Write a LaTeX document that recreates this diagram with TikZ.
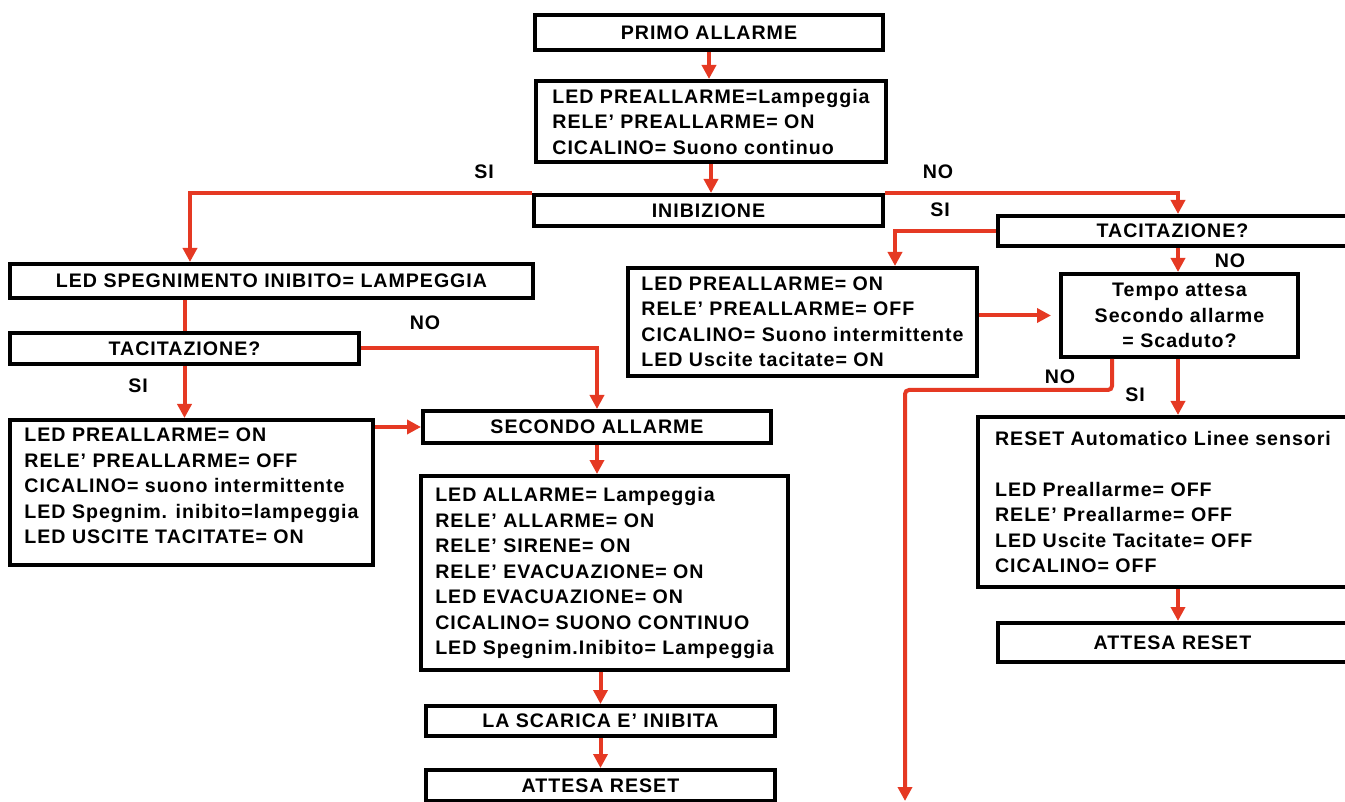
\documentclass[tikz,border=0pt]{standalone}
\usepackage{fontspec}
\setmainfont{Liberation Sans}[LetterSpace=5]
\usetikzlibrary{arrows.meta}
\usetikzlibrary{positioning}

\definecolor{rosso}{RGB}{229,57,35}

\begin{document}
\begin{tikzpicture}[
        x=0.5pt, y=-0.5pt,
        font=\fontsize{9.8}{12.75}\selectfont\bfseries,
        % blocchi con bordo nero spesso
        box/.style={rectangle, draw, line width=2pt, align=center, inner sep=0pt},
        % blocchi con elenco di stati
        listbox/.style={box, align=left},
        % frecce e linee rosse
        freccia/.style={draw=rosso, line width=2pt, -{Triangle[width=7pt,length=7pt]}},
        linea/.style={draw=rosso, line width=2pt},
        etich/.style={inner sep=0pt}
    ]

    \path[use as bounding box, clip] (0,0) rectangle (1345,802);

    % --- 1. BLOCCHI (NODI) ---
    \node[box, minimum width=174pt, minimum height=17.5pt] (primo) at (709,32.5) {PRIMO ALLARME};
    \node[listbox, minimum width=175pt, minimum height=40.5pt] (prea) at (711,121.5)
        {LED PREALLARME=Lampeggia\\RELE’ PREALLARME= ON\\CICALINO= Suono continuo};
    \node[box, minimum width=174.5pt, minimum height=15.5pt] (inib) at (708.5,210.5) {INIBIZIONE};

    % ramo di sinistra (SI)
    \node[box, minimum width=261.5pt, minimum height=17pt] (spegn) at (271.5,281) {LED SPEGNIMENTO INIBITO= LAMPEGGIA};
    \node[box, minimum width=174.5pt, minimum height=15.5pt] (tacsx) at (184.5,348.5) {TACITAZIONE?};
    \node[listbox, minimum width=181.5pt, minimum height=72.5pt] (listsx) at (191.5,492.5)
        {LED PREALLARME= ON\\RELE’ PREALLARME= OFF\\CICALINO= suono intermittente\\LED Spegnim. inibito=lampeggia\\LED USCITE TACITATE= ON\\[-6pt]\mbox{}};

    % secondo allarme
    \node[box, minimum width=174pt, minimum height=16pt] (seca) at (597,427) {SECONDO ALLARME};
    \node[listbox, minimum width=183.5pt, minimum height=97pt] (allarme) at (604.5,573)
        {LED ALLARME= Lampeggia\\RELE’ ALLARME= ON\\RELE’ SIRENE= ON\\RELE’ EVACUAZIONE= ON\\LED EVACUAZIONE= ON\\CICALINO= SUONO CONTINUO\\LED Spegnim.Inibito= Lampeggia};
    \node[box, minimum width=174.5pt, minimum height=15pt] (scarica) at (600.5,721) {LA SCARICA E’ INIBITA};
    \node[box, minimum width=174.5pt, minimum height=15.5pt] (attsx) at (600.5,785.5) {ATTESA RESET};

    % ramo di destra (NO)
    \node[box, minimum width=174.5pt, minimum height=15pt] (tacdx) at (1172.5,231) {TACITAZIONE?};
    \node[listbox, minimum width=174.5pt, minimum height=54pt] (listdx) at (802.5,322)
        {LED PREALLARME= ON\\RELE’ PREALLARME= OFF\\CICALINO= Suono intermittente\\LED Uscite tacitate= ON};
    \node[box, minimum width=118.5pt, minimum height=41.5pt] (tempo) at (1179.5,315.5)
        {Tempo attesa\\Secondo allarme\\= Scaduto?};
    \node[listbox, minimum width=185pt, minimum height=85pt] (reset) at (1163,502)
        {RESET Automatico Linee sensori\\[12.75pt]LED Preallarme= OFF\\RELE’ Preallarme= OFF\\LED Uscite Tacitate= OFF\\CICALINO= OFF};
    \node[box, minimum width=174.5pt, minimum height=19.5pt] (attdx) at (1172.5,642.5) {ATTESA RESET};

    % punti di appoggio per le linee
    \coordinate (siInib) at (190,196);
    \coordinate (noInib) at (1178,193);
    \coordinate (colDx) at (1178,0);
    \coordinate (siTac) at (895,228);
    \coordinate (noTempo) at (1112,390);
    \coordinate (fondo) at (905,801);

    % etichette SI / NO
    \node[etich] (lSiInib) at (484,172) {SI};
    \node[etich] (lNoInib) at (938,172) {NO};
    \node[etich] (lNoTacSx) at (425,323) {NO};
    \node[etich] (lSiTacSx) at (138,386) {SI};
    \node[etich] (lSiTacDx) at (940,210) {SI};
    \node[etich] (lNoTacDx) at (1230,261) {NO};
    \node[etich] (lNoTempo) at (1060,377) {NO};
    \node[etich] (lSiTempo) at (1135,395) {SI};

    % --- 2. COLLEGAMENTI ---
    \draw[freccia] (primo.south) -- (primo.south |- prea.north);
    \draw[freccia] (prea.south) -- (prea.south |- inib.north);
    \draw[freccia] (inib.north west) -| (siInib |- spegn.north);
    \draw[freccia] (inib.north east) -| (noInib |- tacdx.north);

    \draw[linea] (tacsx.north |- spegn.south) -- (tacsx.north);
    \draw[freccia] (tacsx.south) -- (tacsx.south |- listsx.north);
    \draw[freccia] (tacsx.east) -| (seca.north);
    \draw[freccia] (listsx.east |- seca.west) -- (seca.west);
    \draw[freccia] (seca.south) -- (seca.south |- allarme.north);
    \draw[freccia] (scarica.north |- allarme.south) -- (scarica.north);
    \draw[freccia] (scarica.south) -- (attsx.north);

    \draw[freccia] (tacdx.west) -| (siTac |- listdx.north);
    \draw[freccia] (colDx |- tacdx.south) -- (colDx |- tempo.north);
    \draw[freccia, shorten >=4pt] (listdx.east |- tempo.west) -- (tempo.west);
    \draw[freccia, rounded corners=2pt] (tempo.south -| noTempo) -- (noTempo) -| (fondo);
    \draw[freccia] (colDx |- tempo.south) -- (colDx |- reset.north);
    \draw[freccia] (colDx |- reset.south) -- (colDx |- attdx.north);

\end{tikzpicture}
\end{document}
